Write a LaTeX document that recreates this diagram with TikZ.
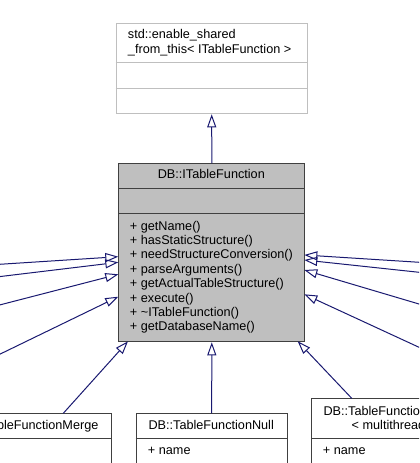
\documentclass[tikz,border=0pt]{standalone}
\usepackage{fontspec}
\setmainfont{Liberation Sans}
\usetikzlibrary{arrows.meta}
\definecolor{edgecol}{HTML}{191970}
\definecolor{boxgray}{HTML}{BFBFBF}
\definecolor{boxdark}{HTML}{404040}
\begin{document}
\begin{tikzpicture}[x=0.75pt,y=-0.75pt,
  umlfont/.style={font=\fontsize{9.5pt}{10.8pt}\selectfont},
  lbl/.style={inner sep=0pt, umlfont, text=black},
  basebox/.style={draw=boxgray, fill=white, line width=0.75pt, inner sep=0pt, anchor=north west},
  mainbox/.style={draw=boxdark, fill=boxgray, line width=0.75pt, inner sep=0pt, anchor=north west},
  subbox/.style={draw=boxdark, fill=white, line width=0.75pt, inner sep=0pt, anchor=north west},
  seplight/.style={draw=boxgray, line width=0.75pt},
  sepdark/.style={draw=boxdark, line width=0.75pt},
  inherit/.style={draw=edgecol, line width=0.75pt, -{Triangle[open, length=9.75pt, width=6.75pt]}}]
\useasboundingbox (0,0) rectangle (419,463);
\clip (0,0) rectangle (419,463);

% base class
\node[basebox, minimum width=143.25pt, minimum height=67.95pt] (base) at (115.7,22.7) {};
\draw[seplight] (115.7,62.7) -- (306.7,62.7);
\draw[seplight] (115.7,88.3) -- (306.7,88.3);
\node[lbl, anchor=base west] (bt1) at (127.7,39) {std::enable\_shared};
\node[lbl, anchor=base west] (bt2) at (127.7,53.4) {\_from\_this< ITableFunction >};

% main class
\node[mainbox, minimum width=139.5pt, minimum height=133.5pt] (main) at (118.3,163.3) {};
\draw[sepdark] (118.3,188.3) -- (304.3,188.3);
\draw[sepdark] (118.3,213.5) -- (304.3,213.5);
\node[lbl, anchor=base] (mt) at (211.3,179) {DB::ITableFunction};
\foreach \t [count=\i from 0] in {getName(), hasStaticStructure(), needStructureConversion(), parseArguments(), getActualTableStructure(), execute(), \textasciitilde ITableFunction(), getDatabaseName()} {
  \node[lbl, anchor=base west] (m\i) at (129.7,230+14.4*\i) {+ \t};
}

% derived classes (bottom)
\node[subbox, minimum width=123pt, minimum height=60pt] (merge) at (-53.3,413.3) {};
\draw[sepdark] (-53.3,438.3) -- (110.7,438.3);
\node[lbl, anchor=base] (mgt) at (28.7,429.5) {DB::TableFunctionMerge};

\node[subbox, minimum width=113.25pt, minimum height=60pt] (null) at (135.7,413.3) {};
\draw[sepdark] (135.7,438.3) -- (286.7,438.3);
\node[lbl, anchor=base] (nt) at (211.2,429.5) {DB::TableFunctionNull};
\node[lbl, anchor=base west] (nn) at (147.7,454) {+ name};

\node[subbox, minimum width=135pt, minimum height=70pt] (numbers) at (311,398.3) {};
\draw[sepdark] (311,438.3) -- (491,438.3);
\node[lbl, anchor=base] (nu1) at (401,415) {DB::TableFunctionNumbers};
\node[lbl, anchor=base] (nu2) at (401,429.5) {< multithreaded >};
\node[lbl, anchor=base west] (nun) at (322.7,454) {+ name};

% free ends and tips
\coordinate (l1) at (-2,264.4);  \coordinate (tl1) at (118.3,256.7);
\coordinate (l2) at (-2,276.8);  \coordinate (tl2) at (118.3,262.3);
\coordinate (l3) at (-2,305.4);  \coordinate (tl3) at (118.3,274.3);
\coordinate (l4) at (-2,355.1);  \coordinate (tl4) at (118.3,296.7);
\coordinate (r1) at (421,262.4); \coordinate (tr1) at (304.3,255);
\coordinate (r2) at (421,272.5); \coordinate (tr2) at (304.3,260);
\coordinate (r3) at (421,304.6); \coordinate (tr3) at (304.3,270);
\coordinate (r4) at (421,348.2); \coordinate (tr4) at (304.3,294.3);
\coordinate (mgtop) at (63.3,413.3); \coordinate (tmg) at (128,341.3);
\coordinate (nutop) at (351.7,398.3); \coordinate (tnu) at (297.7,341.3);

% connectors
\draw[inherit] (main.north) -- (base.south);
\foreach \k in {1,2,3,4} {
  \draw[inherit] (l\k) -- (tl\k);
  \draw[inherit] (r\k) -- (tr\k);
}
\draw[inherit] (mgtop) -- (tmg);
\draw[inherit] (null.north) -- (main.south);
\draw[inherit] (nutop) -- (tnu);
\end{tikzpicture}
\end{document}
